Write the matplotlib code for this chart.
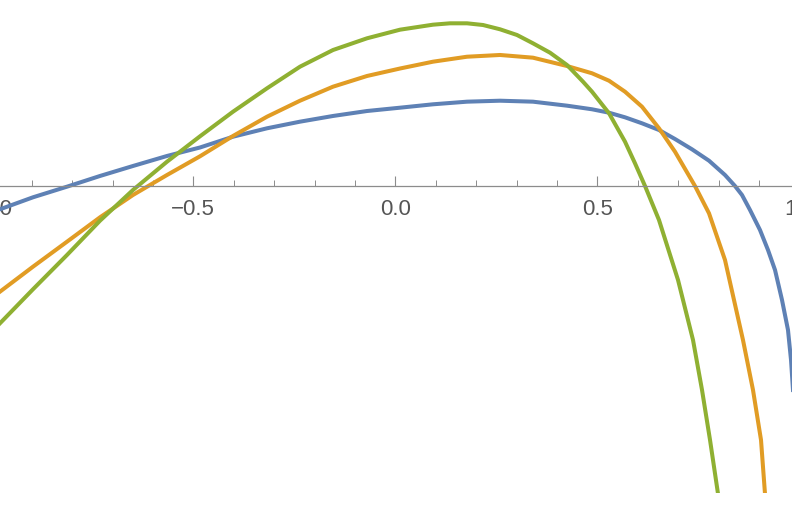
import numpy as np
import matplotlib.pyplot as plt
from matplotlib.ticker import MultipleLocator, FuncFormatter

# values
blue_x = [-0.9785, -0.8968, -0.8126, -0.7309, -0.6493, -0.5651, -0.4834, -0.4017, -0.3176,
          -0.2359, -0.1542, -0.0700, 0.0116, 0.0933, 0.1775, 0.2592, 0.3408, 0.4250,
          0.4869, 0.5290, 0.5686, 0.6106, 0.6527, 0.6923, 0.7344, 0.7765, 0.8161,
          0.8408, 0.8582, 0.8780, 0.9027, 0.9225, 0.9399, 0.9572, 0.9720, 0.9795, 0.9844]
blue_y = [-0.0577, -0.0280, -0.0017, 0.0248, 0.0495, 0.0743, 0.0953, 0.1220, 0.1428,
          0.1592, 0.1733, 0.1856, 0.1938, 0.2022, 0.2087, 0.2111, 0.2087, 0.1988,
          0.1899, 0.1814, 0.1700, 0.1552, 0.1386, 0.1163, 0.0908, 0.0626, 0.0272,
          0.0000, -0.0223, -0.0594, -0.1089, -0.1584, -0.2079, -0.2822, -0.3564, -0.4307, -0.5050]

orange_x = [-0.9785, -0.8968, -0.8126, -0.7309, -0.6493, -0.5651, -0.4834, -0.4017, -0.3176,
            -0.2359, -0.1542, -0.0700, 0.0116, 0.0933, 0.1775, 0.2592, 0.3408, 0.4250,
            0.4869, 0.5290, 0.5686, 0.6106, 0.6527, 0.6923, 0.7418, 0.7765, 0.8161,
            0.8606, 0.8854, 0.9052, 0.9151]
orange_y = [-0.2616, -0.1998, -0.1379, -0.0775, -0.0223, 0.0272, 0.0735, 0.1238, 0.1715,
            0.2111, 0.2458, 0.2723, 0.2908, 0.3077, 0.3200, 0.3243, 0.3176, 0.2970,
            0.2790, 0.2606, 0.2334, 0.1963, 0.1428, 0.0849, 0.0000, -0.0676, -0.1832,
            -0.3812, -0.5050, -0.6287, -0.7620]

green_x = [-0.9785, -0.8968, -0.8126, -0.7309, -0.6493, -0.5651, -0.4834, -0.4017, -0.3176,
           -0.2359, -0.1542, -0.0700, 0.0116, 0.0933, 0.1354, 0.1775, 0.2171, 0.2592,
           0.3012, 0.3408, 0.3829, 0.4250, 0.4646, 0.4869, 0.5290, 0.5686, 0.5933,
           0.6181, 0.6527, 0.6998, 0.7369, 0.7592, 0.7790, 0.7988]
green_y = [-0.3399, -0.2557, -0.1708, -0.0859, -0.0099, 0.0601, 0.1230, 0.1839, 0.2418,
           0.2953, 0.3366, 0.3656, 0.3869, 0.3993, 0.4027, 0.4027, 0.3985, 0.3879,
           0.3738, 0.3532, 0.3300, 0.2995, 0.2582, 0.2334, 0.1800, 0.1097, 0.0562,
           0.0000, -0.0842, -0.2327, -0.3812, -0.5050, -0.6287, -0.7620]

plt.rcParams['font.family'] = ['Liberation Sans', 'DejaVu Sans']

fig = plt.figure(figsize=(7.92, 5.05), dpi=100)
ax = fig.add_axes([-8.7 / 792, 12 / 505, 808 / 792, 493 / 505])

ax.plot(blue_x, blue_y, color='#5e81b5', lw=2.9, solid_joinstyle='round')
ax.plot(orange_x, orange_y, color='#e19c24', lw=2.9, solid_joinstyle='round')
ax.plot(green_x, green_y, color='#8fb032', lw=2.9, solid_joinstyle='round')

ax.set_xlim(-1, 1)
ax.set_ylim(-0.76, 0.4604)

for s in ['top', 'right', 'left']:
    ax.spines[s].set_visible(False)
ax.spines['bottom'].set_position(('data', 0))
ax.spines['bottom'].set_color('#8c8c8c')
ax.spines['bottom'].set_linewidth(0.9)
ax.set_yticks([])

ax.xaxis.set_major_locator(MultipleLocator(0.5))
ax.xaxis.set_minor_locator(MultipleLocator(0.1))
ax.xaxis.set_major_formatter(FuncFormatter(lambda v, p: f"{v:.1f}".replace('-', '\u2212')))
ax.tick_params(axis='x', which='major', direction='in', length=7, width=0.8,
               color='#8c8c8c', labelsize=16, labelcolor='#555555', pad=9.5)
ax.tick_params(axis='x', which='minor', direction='in', length=4.3, width=0.7,
               color='#8c8c8c')

fig.savefig('out.png', dpi=100)
